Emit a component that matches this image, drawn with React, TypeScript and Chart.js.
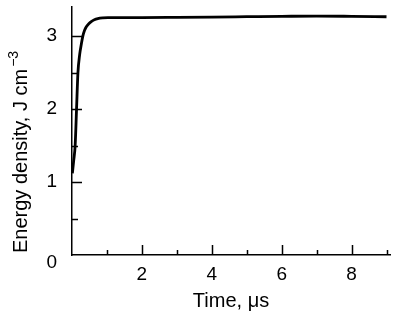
import React, { useEffect, useRef } from "react";
import { Chart, registerables } from "chart.js";

Chart.register(...registerables);

const timeValues = [0.01, 0.05, 0.09, 0.13, 0.17, 0.22, 0.27, 0.31, 0.36, 0.41, 0.48, 0.55, 0.64, 0.74, 0.88, 1.03, 1.5, 2, 3, 4, 5, 6, 7, 8, 9];
const energyValues = [1.12, 1.3, 1.5, 2.0, 2.5, 2.75, 2.9, 3.0, 3.08, 3.13, 3.17, 3.2, 3.225, 3.24, 3.25, 3.255, 3.255, 3.255, 3.258, 3.262, 3.267, 3.272, 3.276, 3.272, 3.266];
const xTickValues = [1, 2, 3, 4, 5, 6, 7, 8, 9];
const xLabelValues = [2, 4, 6, 8];
const yTickValues = [0.5, 1, 1.5, 2, 2.5, 3];
const yLabelValues = [1, 2, 3];
const xTitle = "Time, \u03bcs";
const yTitle = "Energy density, J cm";
const yTitleSup = "\u22123";

const FONT = "'Liberation Sans', Arial, sans-serif";

const inwardTicks = {
  id: "inwardTicks",
  afterDraw(chart: any) {
    const ctx = chart.ctx;
    const { left, bottom } = chart.chartArea;
    const xs = chart.scales.x;
    const ys = chart.scales.y;
    ctx.save();
    ctx.strokeStyle = "#000";
    ctx.lineWidth = 1.5;
    ctx.beginPath();
    xTickValues.forEach((v) => {
      const px = Math.round(xs.getPixelForValue(v)) + 0.5;
      const len = v % 2 === 0 ? 10 : 5;
      ctx.moveTo(px, bottom);
      ctx.lineTo(px, bottom - len);
    });
    yTickValues.forEach((v) => {
      const py = Math.round(ys.getPixelForValue(v)) + 0.5;
      const len = Number.isInteger(v) ? 10 : 6;
      ctx.moveTo(left, py);
      ctx.lineTo(left + len, py);
    });
    ctx.stroke();

    // origin label
    ctx.fillStyle = "#000";
    ctx.font = `19px ${FONT}`;
    ctx.textAlign = "right";
    ctx.textBaseline = "middle";
    ctx.fillText("0", left - 15, ys.getPixelForValue(0) + 8);

    // y title with superscript
    ctx.translate(27, 253);
    ctx.rotate(-Math.PI / 2);
    ctx.textAlign = "left";
    ctx.textBaseline = "alphabetic";
    ctx.font = `20px ${FONT}`;
    ctx.fillText(yTitle, 0, 0);
    const w = ctx.measureText(yTitle).width;
    ctx.font = `14px ${FONT}`;
    ctx.fillText(yTitleSup, w + 2, -9);
    ctx.restore();
  },
};

export default function App() {
  const ref = useRef<HTMLCanvasElement>(null);
  useEffect(() => {
    document.body.style.margin = "0";
    const chart = new Chart(ref.current!, {
      type: "line",
      data: {
        datasets: [
          {
            data: timeValues.map((x, i) => ({ x, y: energyValues[i] })),
            borderColor: "#000",
            borderWidth: 2.8,
            pointRadius: 0,
            cubicInterpolationMode: "monotone",
            fill: false,
          },
        ],
      },
      options: {
        animation: false,
        responsive: false,
        maintainAspectRatio: false,
        layout: { padding: { top: 7, right: 7, left: 0, bottom: 0 } },
        plugins: { legend: { display: false }, tooltip: { enabled: false } },
        scales: {
          x: {
            type: "linear",
            min: 0,
            max: 9.1,
            grid: { display: false, drawTicks: false },
            border: { display: true, color: "#000", width: 1.5 },
            afterBuildTicks: (s: any) => {
              s.ticks = xLabelValues.map((v) => ({ value: v }));
            },
            afterFit: (s: any) => {
              s.height = 64;
              s.paddingLeft = 0;
              s.paddingRight = 0;
            },
            ticks: {
              color: "#000",
              font: { family: FONT, size: 19 },
              padding: 8,
              maxRotation: 0,
              autoSkip: false,
            },
            title: {
              display: true,
              text: xTitle,
              color: "#000",
              font: { family: FONT, size: 20 },
              padding: { top: 0, bottom: 6 },
            },
          },
          y: {
            min: 0,
            max: 3.4,
            grid: { display: false, drawTicks: false },
            border: { display: true, color: "#000", width: 1.5 },
            afterBuildTicks: (s: any) => {
              s.ticks = yLabelValues.map((v) => ({ value: v }));
            },
            afterFit: (s: any) => {
              s.width = 72;
              s.paddingTop = 0;
              s.paddingBottom = 0;
            },
            ticks: {
              color: "#000",
              font: { family: FONT, size: 19 },
              padding: 15,
              autoSkip: false,
            },
          },
        },
      },
      plugins: [inwardTicks],
    });
    return () => chart.destroy();
  }, []);
  return (
    <div style={{ width: 397, height: 319 }}>
      <canvas ref={ref} width={397} height={319} style={{ display: "block" }} />
    </div>
  );
}
